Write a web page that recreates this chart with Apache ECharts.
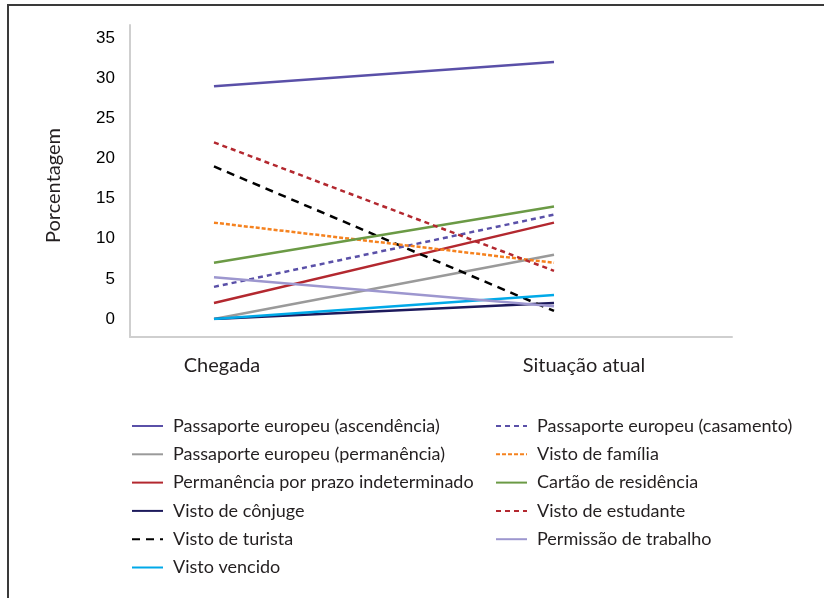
<!DOCTYPE html>
<html>
<head>
<meta charset="utf-8">
<script src="https://cdn.jsdelivr.net/npm/echarts@6/dist/echarts.min.js"></script>
<style>
  html, body { margin: 0; padding: 0; background: #fff; }
  #chart { width: 824px; height: 598px; }
</style>
</head>
<body>
<div id="chart"></div>
<script>
// Two moments in time: on arrival and the current situation
const categories = ['Chegada', 'Situação atual'];
const yTicks = [0, 5, 10, 15, 20, 25, 30, 35];

// Percentage of people holding each status, [Chegada, Situação atual]
const passaporteAscendencia = [29, 32];
const passaportePermanencia = [0, 8];
const permanenciaIndeterminado = [2, 12];
const vistoConjuge = [0, 2];
const vistoTurista = [19, 1];
const vistoVencido = [0, 3];
const passaporteCasamento = [4, 13];
const vistoFamilia = [12, 7];
const cartaoResidencia = [7, 14];
const vistoEstudante = [22, 6];
const permissaoTrabalho = [5.2, 1.6];

const seriesDefs = [
  { name: 'Passaporte europeu (ascendência)', values: passaporteAscendencia, color: '#5a50a8', type: 'solid' },
  { name: 'Passaporte europeu (permanência)', values: passaportePermanencia, color: '#9a9a9a', type: 'solid' },
  { name: 'Permanência por prazo indeterminado', values: permanenciaIndeterminado, color: '#b3282f', type: 'solid' },
  { name: 'Visto de cônjuge', values: vistoConjuge, color: '#1d1a5c', type: 'solid' },
  { name: 'Visto de turista', values: vistoTurista, color: '#000000', type: [8, 6] },
  { name: 'Visto vencido', values: vistoVencido, color: '#00a9e8', type: 'solid' },
  { name: 'Passaporte europeu (casamento)', values: passaporteCasamento, color: '#5a50a8', type: [5, 4] },
  { name: 'Visto de família', values: vistoFamilia, color: '#f5821f', type: [4, 2] },
  { name: 'Cartão de residência', values: cartaoResidencia, color: '#6b9a45', type: 'solid' },
  { name: 'Visto de estudante', values: vistoEstudante, color: '#b3282f', type: [5, 4] },
  { name: 'Permissão de trabalho', values: permissaoTrabalho, color: '#9d97cf', type: 'solid' }
];

const textFont = 'Lato';
const axisColor = '#cfcfcf';

const chart = echarts.init(document.getElementById('chart'), null, { renderer: 'canvas' });

const legendCommon = {
  orient: 'vertical',
  padding: 0,
  itemWidth: 31,
  itemHeight: 16,
  itemGap: 10.3,
  itemStyle: { opacity: 0 },
  textStyle: { fontFamily: textFont, fontSize: 18, color: '#231f20', padding: [0, 0, 0, 5] },
  selectedMode: false
};

chart.setOption({
  animation: false,
  backgroundColor: '#ffffff',
  graphic: [{
    type: 'rect',
    shape: { x: 8, y: 5, width: 900, height: 700 },
    style: { fill: 'none', stroke: '#3a3a3a', lineWidth: 2 },
    silent: true
  }],
  legend: [
    Object.assign({}, legendCommon, {
      left: 131, top: 417,
      data: seriesDefs.slice(0, 6).map(s => s.name)
    }),
    Object.assign({}, legendCommon, {
      left: 495, top: 417,
      data: seriesDefs.slice(6).map(s => s.name)
    })
  ],
  grid: [
    // plotting area, 0..35
    { left: 130, right: 92, top: 38, bottom: 279 },
    // axis frame
    { left: 130, right: 92, top: 25, bottom: 261 },
    // category labels
    { left: 41, right: 59, top: 25, bottom: 261 }
  ],
  xAxis: [
    { gridIndex: 0, type: 'value', min: -0.247, max: 1.5235, show: false },
    {
      gridIndex: 1, type: 'value', min: 0, max: 1,
      axisLine: { show: true, lineStyle: { color: axisColor, width: 2 } },
      axisTick: { show: false }, axisLabel: { show: false }, splitLine: { show: false }
    },
    {
      gridIndex: 2, type: 'category', data: categories, boundaryGap: true,
      axisLine: { show: false }, axisTick: { show: false }, splitLine: { show: false },
      axisLabel: { fontFamily: textFont, fontSize: 20, color: '#231f20', margin: 19 }
    }
  ],
  yAxis: [
    {
      gridIndex: 0, type: 'value', min: yTicks[0], max: yTicks[yTicks.length - 1], interval: 5,
      axisLine: { show: false }, axisTick: { show: false }, splitLine: { show: false },
      axisLabel: { fontFamily: 'Liberation Sans', fontSize: 17, color: '#000', margin: 15 }
    },
    {
      gridIndex: 1, type: 'value', min: 0, max: 1,
      name: 'Porcentagem', nameLocation: 'middle', nameGap: 66,
      nameTextStyle: { fontFamily: textFont, fontSize: 20, color: '#231f20', padding: [0, 9, 0, 0] },
      axisLine: { show: true, lineStyle: { color: axisColor, width: 2 } },
      axisTick: { show: false }, axisLabel: { show: false }, splitLine: { show: false }
    },
    { gridIndex: 2, type: 'value', show: false }
  ],
  series: seriesDefs.map(s => ({
    name: s.name,
    type: 'line',
    xAxisIndex: 0,
    yAxisIndex: 0,
    symbol: 'none',
    color: s.color,
    lineStyle: { color: s.color, width: 2.5, type: s.type },
    data: categories.map((c, i) => [i, s.values[i]])
  }))
});
</script>
</body>
</html>
